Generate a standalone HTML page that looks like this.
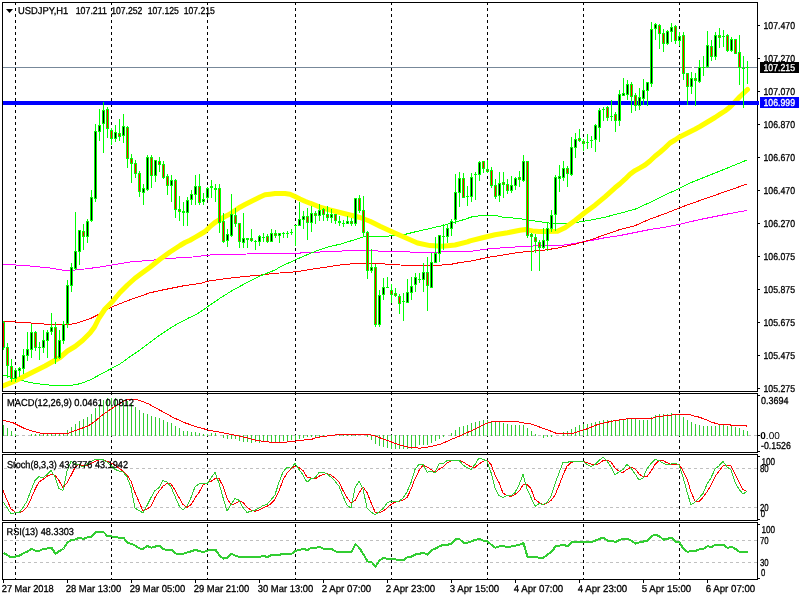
<!DOCTYPE html><html><head><meta charset="utf-8"><style>html,body{margin:0;padding:0;background:#fff;}svg{display:block;will-change:transform}text{font-family:"Liberation Sans",sans-serif;text-rendering:geometricPrecision;}</style></head><body>
<svg width="800" height="600" viewBox="0 0 800 600">
<rect x="0" y="0" width="800" height="600" fill="#fff"/>
<line x1="15.5" y1="2" x2="15.5" y2="579" stroke="#000" stroke-width="1" stroke-dasharray="3 3" shape-rendering="crispEdges"/>
<line x1="111.5" y1="2" x2="111.5" y2="579" stroke="#000" stroke-width="1" stroke-dasharray="3 3" shape-rendering="crispEdges"/>
<line x1="207.5" y1="2" x2="207.5" y2="579" stroke="#000" stroke-width="1" stroke-dasharray="3 3" shape-rendering="crispEdges"/>
<line x1="295.5" y1="2" x2="295.5" y2="579" stroke="#000" stroke-width="1" stroke-dasharray="3 3" shape-rendering="crispEdges"/>
<line x1="391.5" y1="2" x2="391.5" y2="579" stroke="#000" stroke-width="1" stroke-dasharray="3 3" shape-rendering="crispEdges"/>
<line x1="487.5" y1="2" x2="487.5" y2="579" stroke="#000" stroke-width="1" stroke-dasharray="3 3" shape-rendering="crispEdges"/>
<line x1="583.5" y1="2" x2="583.5" y2="579" stroke="#000" stroke-width="1" stroke-dasharray="3 3" shape-rendering="crispEdges"/>
<line x1="679.5" y1="2" x2="679.5" y2="579" stroke="#000" stroke-width="1" stroke-dasharray="3 3" shape-rendering="crispEdges"/>
<defs><clipPath id="cm"><rect x="3" y="3" width="754" height="388"/></clipPath><clipPath id="c1"><rect x="3" y="394" width="754" height="58"/></clipPath><clipPath id="c2"><rect x="3" y="455" width="754" height="65"/></clipPath><clipPath id="c3"><rect x="3" y="523" width="754" height="56"/></clipPath></defs>
<g clip-path="url(#cm)">
<polyline points="3.00,264.25 25.00,265.50 50.00,268.00 62.00,270.00 75.00,270.00 87.00,268.75 100.00,267.00 110.00,265.40 130.00,262.00 150.00,260.40 170.00,258.30 190.00,257.30 210.00,255.00 230.00,254.25 260.00,253.80 300.00,253.30 301.00,252.50 320.00,252.20 321.00,251.20 340.00,251.20 350.00,250.00 370.00,250.00 380.00,251.25 410.00,252.00 440.00,252.00 470.00,251.50 488.75,248.75 507.50,247.50 526.00,246.25 545.00,245.60 560.00,245.70 575.00,243.30 590.00,240.70 605.00,237.70 620.00,235.50 635.00,232.50 650.00,229.50 665.00,227.20 680.00,224.20 700.00,219.50 730.00,213.50 747.00,210.50" fill="none" stroke="#ff00ff" stroke-width="1" stroke-linejoin="round" shape-rendering="crispEdges"/>
<polyline points="3.00,321.25 25.00,322.50 50.00,324.50 62.00,325.00 75.00,323.75 90.00,318.70 97.50,315.00 105.00,310.50 112.50,306.70 120.00,303.70 130.00,299.80 140.00,296.30 150.00,292.80 160.00,290.50 170.00,288.50 185.00,285.50 200.00,283.50 208.00,281.20 227.50,278.40 243.80,276.60 260.00,275.10 273.00,273.50 293.00,272.00 300.00,271.20 310.00,269.50 320.00,268.00 330.00,266.50 340.00,265.00 350.00,264.00 370.00,263.00 400.00,265.00 430.00,265.75 450.00,264.50 460.00,262.50 470.00,261.25 490.00,257.00 505.00,254.75 520.00,252.25 545.00,250.00 557.50,248.10 560.00,247.50 575.00,244.20 590.00,240.00 605.00,234.70 620.00,229.50 635.00,225.70 650.00,219.00 665.00,213.70 680.00,207.70 690.00,204.00 710.00,197.00 730.00,190.00 747.00,184.00" fill="none" stroke="#ff0000" stroke-width="1" stroke-linejoin="round" shape-rendering="crispEdges"/>
<polyline points="3.00,375.00 9.00,376.50 15.00,378.75 30.00,382.50 45.00,384.75 60.00,385.75 70.00,385.50 80.00,383.75 90.00,380.00 95.00,377.30 105.00,372.00 111.70,368.30 120.00,364.00 130.00,356.70 140.00,350.00 150.00,342.40 160.00,335.00 170.00,328.30 180.00,322.40 190.00,317.30 195.00,315.00 200.00,312.20 208.00,306.40 220.00,298.20 233.00,290.10 245.00,283.60 260.00,276.00 275.00,270.00 280.00,267.00 295.00,260.00 310.00,253.50 320.00,249.50 330.00,246.50 340.00,244.20 362.00,237.50 366.00,236.00 389.00,236.00 391.00,235.30 405.00,234.40 417.50,231.25 430.00,228.50 442.50,225.60 455.00,222.25 467.50,218.50 470.00,217.25 482.50,215.25 495.00,215.25 501.00,216.90 507.50,217.50 520.00,218.75 532.50,220.60 545.00,222.50 557.50,224.00 560.00,223.80 575.00,222.70 590.00,220.20 605.00,217.20 620.00,213.30 635.00,209.20 650.00,202.50 665.00,195.00 680.00,188.20 690.00,183.00 710.00,175.00 730.00,167.00 747.00,160.00" fill="none" stroke="#00ff00" stroke-width="1" stroke-linejoin="round" shape-rendering="crispEdges"/>
<polyline points="3.00,386.00 15.00,381.00 30.00,373.50 45.00,366.00 60.00,357.50 67.50,351.00 75.00,346.50 82.50,340.50 90.00,333.00 94.50,327.00 99.00,318.00 105.00,309.00 112.50,301.50 120.00,292.50 127.50,285.00 135.00,278.25 140.00,274.50 150.00,267.30 160.00,259.30 170.00,252.00 180.00,245.50 185.00,242.50 190.00,240.20 195.00,237.40 200.00,234.50 205.00,231.50 210.00,226.70 215.00,222.50 220.00,219.50 225.00,216.50 230.00,214.00 235.00,210.50 240.00,207.20 245.00,204.50 250.00,202.00 255.00,199.50 260.00,197.00 265.00,194.80 270.00,194.20 275.00,193.60 285.00,193.60 290.00,194.30 295.00,196.50 300.00,199.00 305.00,201.20 310.00,203.20 315.00,205.00 320.00,207.20 330.00,210.00 340.00,212.50 350.00,215.00 360.00,217.50 370.00,221.25 380.00,226.25 392.50,232.00 405.00,237.50 417.50,243.00 430.00,245.60 442.50,246.25 455.00,245.00 467.50,241.90 470.00,240.90 482.50,237.75 495.00,234.75 507.50,232.75 520.00,230.25 526.00,229.60 532.50,230.90 539.00,231.40 545.00,231.40 557.50,231.25 565.00,227.70 575.00,220.50 585.00,212.50 595.00,205.20 605.00,196.80 610.00,192.30 615.00,187.80 620.00,183.75 625.00,179.20 630.00,174.30 635.00,170.60 640.00,167.90 645.00,165.00 650.00,161.00 655.00,156.25 660.00,152.25 665.00,147.90 670.00,143.00 675.00,140.00 680.00,136.70 685.00,134.20 690.00,131.70 695.00,129.20 700.00,126.50 705.00,123.50 710.00,120.50 715.00,117.50 720.00,114.20 725.00,111.00 730.00,107.00 734.00,103.00 740.00,96.50 747.50,89.50" fill="none" stroke="#ffff00" stroke-width="5" stroke-linejoin="round" stroke-linecap="round"/>
<rect x="3" y="101" width="756" height="4" fill="#0000ff"/>
<rect x="3" y="67" width="689" height="1" fill="#778899"/><rect x="694" y="67" width="63" height="1" fill="#778899"/>
<g shape-rendering="crispEdges"><rect x="3" y="321" width="1" height="29" fill="#00ff00"/><rect x="2" y="322" width="3" height="26" fill="#00ff00"/><rect x="3" y="323" width="1" height="24" fill="#ff0000"/><rect x="7" y="343" width="1" height="35" fill="#00ff00"/><rect x="6" y="347" width="3" height="19" fill="#00ff00"/><rect x="7" y="348" width="1" height="17" fill="#ff0000"/><rect x="11" y="359" width="1" height="23" fill="#00ff00"/><rect x="10" y="366" width="3" height="13" fill="#00ff00"/><rect x="11" y="367" width="1" height="11" fill="#ff0000"/><rect x="15" y="368" width="1" height="14" fill="#00ff00"/><rect x="14" y="370" width="3" height="9" fill="#00ff00"/><rect x="15" y="371" width="1" height="7" fill="#000"/><rect x="19" y="367" width="1" height="10" fill="#00ff00"/><rect x="18" y="368" width="3" height="3" fill="#00ff00"/><rect x="19" y="369" width="1" height="1" fill="#000"/><rect x="23" y="349" width="1" height="25" fill="#00ff00"/><rect x="22" y="355" width="3" height="14" fill="#00ff00"/><rect x="23" y="356" width="1" height="12" fill="#000"/><rect x="27" y="332" width="1" height="29" fill="#00ff00"/><rect x="26" y="349" width="3" height="7" fill="#00ff00"/><rect x="27" y="350" width="1" height="5" fill="#000"/><rect x="31" y="324" width="1" height="34" fill="#00ff00"/><rect x="30" y="332" width="3" height="18" fill="#00ff00"/><rect x="31" y="333" width="1" height="16" fill="#000"/><rect x="35" y="331" width="1" height="20" fill="#00ff00"/><rect x="34" y="332" width="3" height="16" fill="#00ff00"/><rect x="35" y="333" width="1" height="14" fill="#ff0000"/><rect x="39" y="342" width="1" height="18" fill="#00ff00"/><rect x="38" y="347" width="3" height="1" fill="#00ff00"/><rect x="43" y="330" width="1" height="23" fill="#00ff00"/><rect x="42" y="340" width="3" height="8" fill="#00ff00"/><rect x="43" y="341" width="1" height="6" fill="#000"/><rect x="47" y="330" width="1" height="28" fill="#00ff00"/><rect x="46" y="332" width="3" height="9" fill="#00ff00"/><rect x="47" y="333" width="1" height="7" fill="#000"/><rect x="51" y="313" width="1" height="22" fill="#00ff00"/><rect x="50" y="327" width="3" height="5" fill="#00ff00"/><rect x="51" y="328" width="1" height="3" fill="#000"/><rect x="55" y="322" width="1" height="42" fill="#00ff00"/><rect x="54" y="327" width="3" height="32" fill="#00ff00"/><rect x="55" y="328" width="1" height="30" fill="#ff0000"/><rect x="59" y="330" width="1" height="29" fill="#00ff00"/><rect x="58" y="340" width="3" height="18" fill="#00ff00"/><rect x="59" y="341" width="1" height="16" fill="#000"/><rect x="63" y="321" width="1" height="23" fill="#00ff00"/><rect x="62" y="324" width="3" height="17" fill="#00ff00"/><rect x="63" y="325" width="1" height="15" fill="#000"/><rect x="67" y="280" width="1" height="48" fill="#00ff00"/><rect x="66" y="285" width="3" height="39" fill="#00ff00"/><rect x="67" y="286" width="1" height="37" fill="#000"/><rect x="71" y="263" width="1" height="29" fill="#00ff00"/><rect x="70" y="267" width="3" height="19" fill="#00ff00"/><rect x="71" y="268" width="1" height="17" fill="#000"/><rect x="75" y="212" width="1" height="58" fill="#00ff00"/><rect x="74" y="251" width="3" height="18" fill="#00ff00"/><rect x="75" y="252" width="1" height="16" fill="#000"/><rect x="79" y="230" width="1" height="35" fill="#00ff00"/><rect x="78" y="230" width="3" height="22" fill="#00ff00"/><rect x="79" y="231" width="1" height="20" fill="#000"/><rect x="83" y="224" width="1" height="26" fill="#00ff00"/><rect x="82" y="231" width="3" height="6" fill="#00ff00"/><rect x="83" y="232" width="1" height="4" fill="#ff0000"/><rect x="87" y="219" width="1" height="24" fill="#00ff00"/><rect x="86" y="221" width="3" height="16" fill="#00ff00"/><rect x="87" y="222" width="1" height="14" fill="#000"/><rect x="91" y="190" width="1" height="32" fill="#00ff00"/><rect x="90" y="197" width="3" height="24" fill="#00ff00"/><rect x="91" y="198" width="1" height="22" fill="#000"/><rect x="95" y="124" width="1" height="78" fill="#00ff00"/><rect x="94" y="131" width="3" height="68" fill="#00ff00"/><rect x="95" y="132" width="1" height="66" fill="#000"/><rect x="99" y="109" width="1" height="32" fill="#00ff00"/><rect x="98" y="125" width="3" height="7" fill="#00ff00"/><rect x="99" y="126" width="1" height="5" fill="#000"/><rect x="103" y="102" width="1" height="51" fill="#00ff00"/><rect x="102" y="110" width="3" height="14" fill="#00ff00"/><rect x="103" y="111" width="1" height="12" fill="#000"/><rect x="107" y="107" width="1" height="31" fill="#00ff00"/><rect x="106" y="109" width="3" height="20" fill="#00ff00"/><rect x="107" y="110" width="1" height="18" fill="#ff0000"/><rect x="111" y="128" width="1" height="17" fill="#00ff00"/><rect x="110" y="130" width="3" height="9" fill="#00ff00"/><rect x="111" y="131" width="1" height="7" fill="#ff0000"/><rect x="115" y="125" width="1" height="17" fill="#00ff00"/><rect x="114" y="132" width="3" height="7" fill="#00ff00"/><rect x="115" y="133" width="1" height="5" fill="#000"/><rect x="119" y="119" width="1" height="22" fill="#00ff00"/><rect x="118" y="133" width="3" height="4" fill="#00ff00"/><rect x="119" y="134" width="1" height="2" fill="#ff0000"/><rect x="123" y="114" width="1" height="29" fill="#00ff00"/><rect x="122" y="126" width="3" height="10" fill="#00ff00"/><rect x="123" y="127" width="1" height="8" fill="#000"/><rect x="127" y="126" width="1" height="42" fill="#00ff00"/><rect x="126" y="127" width="3" height="32" fill="#00ff00"/><rect x="127" y="128" width="1" height="30" fill="#ff0000"/><rect x="131" y="154" width="1" height="29" fill="#00ff00"/><rect x="130" y="158" width="3" height="6" fill="#00ff00"/><rect x="131" y="159" width="1" height="4" fill="#ff0000"/><rect x="135" y="160" width="1" height="18" fill="#00ff00"/><rect x="134" y="163" width="3" height="11" fill="#00ff00"/><rect x="135" y="164" width="1" height="9" fill="#ff0000"/><rect x="139" y="171" width="1" height="26" fill="#00ff00"/><rect x="138" y="173" width="3" height="19" fill="#00ff00"/><rect x="139" y="174" width="1" height="17" fill="#ff0000"/><rect x="143" y="184" width="1" height="21" fill="#00ff00"/><rect x="142" y="188" width="3" height="5" fill="#00ff00"/><rect x="143" y="189" width="1" height="3" fill="#000"/><rect x="147" y="155" width="1" height="36" fill="#00ff00"/><rect x="146" y="157" width="3" height="33" fill="#00ff00"/><rect x="147" y="158" width="1" height="31" fill="#000"/><rect x="151" y="155" width="1" height="33" fill="#00ff00"/><rect x="150" y="157" width="3" height="19" fill="#00ff00"/><rect x="151" y="158" width="1" height="17" fill="#ff0000"/><rect x="155" y="160" width="1" height="22" fill="#00ff00"/><rect x="154" y="160" width="3" height="16" fill="#00ff00"/><rect x="155" y="161" width="1" height="14" fill="#000"/><rect x="159" y="157" width="1" height="15" fill="#00ff00"/><rect x="158" y="161" width="3" height="4" fill="#00ff00"/><rect x="159" y="162" width="1" height="2" fill="#ff0000"/><rect x="163" y="161" width="1" height="18" fill="#00ff00"/><rect x="162" y="164" width="3" height="14" fill="#00ff00"/><rect x="163" y="165" width="1" height="12" fill="#ff0000"/><rect x="167" y="174" width="1" height="21" fill="#00ff00"/><rect x="166" y="176" width="3" height="10" fill="#00ff00"/><rect x="167" y="177" width="1" height="8" fill="#ff0000"/><rect x="171" y="175" width="1" height="27" fill="#00ff00"/><rect x="170" y="180" width="3" height="6" fill="#00ff00"/><rect x="171" y="181" width="1" height="4" fill="#000"/><rect x="175" y="179" width="1" height="39" fill="#00ff00"/><rect x="174" y="180" width="3" height="30" fill="#00ff00"/><rect x="175" y="181" width="1" height="28" fill="#ff0000"/><rect x="179" y="196" width="1" height="25" fill="#00ff00"/><rect x="178" y="209" width="3" height="3" fill="#00ff00"/><rect x="179" y="210" width="1" height="1" fill="#ff0000"/><rect x="183" y="202" width="1" height="24" fill="#00ff00"/><rect x="182" y="211" width="3" height="2" fill="#00ff00"/><rect x="187" y="197" width="1" height="29" fill="#00ff00"/><rect x="186" y="200" width="3" height="13" fill="#00ff00"/><rect x="187" y="201" width="1" height="11" fill="#000"/><rect x="191" y="190" width="1" height="15" fill="#00ff00"/><rect x="190" y="194" width="3" height="6" fill="#00ff00"/><rect x="191" y="195" width="1" height="4" fill="#000"/><rect x="195" y="175" width="1" height="30" fill="#00ff00"/><rect x="194" y="186" width="3" height="9" fill="#00ff00"/><rect x="195" y="187" width="1" height="7" fill="#000"/><rect x="199" y="174" width="1" height="31" fill="#00ff00"/><rect x="198" y="186" width="3" height="17" fill="#00ff00"/><rect x="199" y="187" width="1" height="15" fill="#ff0000"/><rect x="203" y="193" width="1" height="12" fill="#00ff00"/><rect x="202" y="199" width="3" height="3" fill="#00ff00"/><rect x="203" y="200" width="1" height="1" fill="#000"/><rect x="207" y="187" width="1" height="13" fill="#00ff00"/><rect x="206" y="188" width="3" height="10" fill="#00ff00"/><rect x="207" y="189" width="1" height="8" fill="#000"/><rect x="211" y="180" width="1" height="18" fill="#00ff00"/><rect x="210" y="186" width="3" height="2" fill="#00ff00"/><rect x="215" y="184" width="1" height="18" fill="#00ff00"/><rect x="214" y="188" width="3" height="2" fill="#00ff00"/><rect x="219" y="184" width="1" height="49" fill="#00ff00"/><rect x="218" y="188" width="3" height="35" fill="#00ff00"/><rect x="219" y="189" width="1" height="33" fill="#ff0000"/><rect x="223" y="213" width="1" height="30" fill="#00ff00"/><rect x="222" y="221" width="3" height="21" fill="#00ff00"/><rect x="223" y="222" width="1" height="19" fill="#ff0000"/><rect x="227" y="229" width="1" height="18" fill="#00ff00"/><rect x="226" y="234" width="3" height="7" fill="#00ff00"/><rect x="227" y="235" width="1" height="5" fill="#000"/><rect x="231" y="194" width="1" height="43" fill="#00ff00"/><rect x="230" y="214" width="3" height="22" fill="#00ff00"/><rect x="231" y="215" width="1" height="20" fill="#000"/><rect x="235" y="208" width="1" height="19" fill="#00ff00"/><rect x="234" y="215" width="3" height="9" fill="#00ff00"/><rect x="235" y="216" width="1" height="7" fill="#ff0000"/><rect x="239" y="223" width="1" height="25" fill="#00ff00"/><rect x="238" y="223" width="3" height="19" fill="#00ff00"/><rect x="239" y="224" width="1" height="17" fill="#ff0000"/><rect x="243" y="213" width="1" height="35" fill="#00ff00"/><rect x="242" y="238" width="3" height="5" fill="#00ff00"/><rect x="243" y="239" width="1" height="3" fill="#000"/><rect x="247" y="238" width="1" height="10" fill="#00ff00"/><rect x="246" y="238" width="3" height="2" fill="#00ff00"/><rect x="251" y="229" width="1" height="13" fill="#00ff00"/><rect x="250" y="238" width="3" height="3" fill="#00ff00"/><rect x="251" y="239" width="1" height="1" fill="#ff0000"/><rect x="255" y="240" width="1" height="10" fill="#00ff00"/><rect x="254" y="241" width="3" height="1" fill="#00ff00"/><rect x="259" y="235" width="1" height="11" fill="#00ff00"/><rect x="258" y="236" width="3" height="6" fill="#00ff00"/><rect x="259" y="237" width="1" height="4" fill="#000"/><rect x="263" y="233" width="1" height="9" fill="#00ff00"/><rect x="262" y="237" width="3" height="1" fill="#00ff00"/><rect x="267" y="234" width="1" height="9" fill="#00ff00"/><rect x="266" y="236" width="3" height="6" fill="#00ff00"/><rect x="267" y="237" width="1" height="4" fill="#ff0000"/><rect x="271" y="229" width="1" height="13" fill="#00ff00"/><rect x="270" y="233" width="3" height="9" fill="#00ff00"/><rect x="271" y="234" width="1" height="7" fill="#000"/><rect x="275" y="230" width="1" height="8" fill="#00ff00"/><rect x="274" y="233" width="3" height="3" fill="#00ff00"/><rect x="275" y="234" width="1" height="1" fill="#ff0000"/><rect x="279" y="233" width="1" height="10" fill="#00ff00"/><rect x="278" y="233" width="3" height="3" fill="#00ff00"/><rect x="279" y="234" width="1" height="1" fill="#000"/><rect x="283" y="232" width="1" height="6" fill="#00ff00"/><rect x="282" y="233" width="3" height="1" fill="#00ff00"/><rect x="287" y="231" width="1" height="7" fill="#00ff00"/><rect x="286" y="233" width="3" height="1" fill="#00ff00"/><rect x="291" y="229" width="1" height="6" fill="#00ff00"/><rect x="290" y="232" width="3" height="1" fill="#00ff00"/><rect x="295" y="225" width="1" height="21" fill="#00ff00"/><rect x="294" y="225" width="3" height="1" fill="#00ff00"/><rect x="299" y="202" width="1" height="24" fill="#00ff00"/><rect x="298" y="219" width="3" height="7" fill="#00ff00"/><rect x="299" y="220" width="1" height="5" fill="#000"/><rect x="303" y="211" width="1" height="18" fill="#00ff00"/><rect x="302" y="216" width="3" height="4" fill="#00ff00"/><rect x="303" y="217" width="1" height="2" fill="#000"/><rect x="307" y="208" width="1" height="32" fill="#00ff00"/><rect x="306" y="216" width="3" height="7" fill="#00ff00"/><rect x="307" y="217" width="1" height="5" fill="#ff0000"/><rect x="311" y="206" width="1" height="26" fill="#00ff00"/><rect x="310" y="213" width="3" height="10" fill="#00ff00"/><rect x="311" y="214" width="1" height="8" fill="#000"/><rect x="315" y="211" width="1" height="13" fill="#00ff00"/><rect x="314" y="213" width="3" height="3" fill="#00ff00"/><rect x="315" y="214" width="1" height="1" fill="#ff0000"/><rect x="319" y="204" width="1" height="17" fill="#00ff00"/><rect x="318" y="210" width="3" height="6" fill="#00ff00"/><rect x="319" y="211" width="1" height="4" fill="#000"/><rect x="323" y="208" width="1" height="13" fill="#00ff00"/><rect x="322" y="209" width="3" height="6" fill="#00ff00"/><rect x="323" y="210" width="1" height="4" fill="#ff0000"/><rect x="327" y="206" width="1" height="15" fill="#00ff00"/><rect x="326" y="214" width="3" height="4" fill="#00ff00"/><rect x="327" y="215" width="1" height="2" fill="#ff0000"/><rect x="331" y="209" width="1" height="14" fill="#00ff00"/><rect x="330" y="214" width="3" height="4" fill="#00ff00"/><rect x="331" y="215" width="1" height="2" fill="#000"/><rect x="335" y="214" width="1" height="10" fill="#00ff00"/><rect x="334" y="214" width="3" height="7" fill="#00ff00"/><rect x="335" y="215" width="1" height="5" fill="#ff0000"/><rect x="339" y="216" width="1" height="10" fill="#00ff00"/><rect x="338" y="221" width="3" height="2" fill="#00ff00"/><rect x="343" y="220" width="1" height="7" fill="#00ff00"/><rect x="342" y="223" width="3" height="1" fill="#00ff00"/><rect x="347" y="216" width="1" height="8" fill="#00ff00"/><rect x="346" y="221" width="3" height="3" fill="#00ff00"/><rect x="347" y="222" width="1" height="1" fill="#000"/><rect x="351" y="218" width="1" height="8" fill="#00ff00"/><rect x="350" y="221" width="3" height="3" fill="#00ff00"/><rect x="351" y="222" width="1" height="1" fill="#ff0000"/><rect x="355" y="198" width="1" height="28" fill="#00ff00"/><rect x="354" y="198" width="3" height="26" fill="#00ff00"/><rect x="355" y="199" width="1" height="24" fill="#000"/><rect x="359" y="195" width="1" height="18" fill="#00ff00"/><rect x="358" y="198" width="3" height="13" fill="#00ff00"/><rect x="359" y="199" width="1" height="11" fill="#ff0000"/><rect x="363" y="196" width="1" height="40" fill="#00ff00"/><rect x="362" y="210" width="3" height="23" fill="#00ff00"/><rect x="363" y="211" width="1" height="21" fill="#ff0000"/><rect x="367" y="231" width="1" height="48" fill="#00ff00"/><rect x="366" y="232" width="3" height="39" fill="#00ff00"/><rect x="367" y="233" width="1" height="37" fill="#ff0000"/><rect x="371" y="249" width="1" height="24" fill="#00ff00"/><rect x="370" y="267" width="3" height="4" fill="#00ff00"/><rect x="371" y="268" width="1" height="2" fill="#000"/><rect x="375" y="264" width="1" height="63" fill="#00ff00"/><rect x="374" y="267" width="3" height="58" fill="#00ff00"/><rect x="375" y="268" width="1" height="56" fill="#ff0000"/><rect x="379" y="290" width="1" height="37" fill="#00ff00"/><rect x="378" y="295" width="3" height="30" fill="#00ff00"/><rect x="379" y="296" width="1" height="28" fill="#000"/><rect x="383" y="278" width="1" height="22" fill="#00ff00"/><rect x="382" y="287" width="3" height="8" fill="#00ff00"/><rect x="383" y="288" width="1" height="6" fill="#000"/><rect x="387" y="277" width="1" height="11" fill="#00ff00"/><rect x="386" y="287" width="3" height="1" fill="#00ff00"/><rect x="391" y="284" width="1" height="19" fill="#00ff00"/><rect x="390" y="290" width="3" height="5" fill="#00ff00"/><rect x="391" y="291" width="1" height="3" fill="#ff0000"/><rect x="395" y="288" width="1" height="9" fill="#00ff00"/><rect x="394" y="293" width="3" height="3" fill="#00ff00"/><rect x="395" y="294" width="1" height="1" fill="#ff0000"/><rect x="399" y="294" width="1" height="20" fill="#00ff00"/><rect x="398" y="296" width="3" height="8" fill="#00ff00"/><rect x="399" y="297" width="1" height="6" fill="#ff0000"/><rect x="403" y="293" width="1" height="28" fill="#00ff00"/><rect x="402" y="301" width="3" height="1" fill="#00ff00"/><rect x="407" y="279" width="1" height="24" fill="#00ff00"/><rect x="406" y="292" width="3" height="11" fill="#00ff00"/><rect x="407" y="293" width="1" height="9" fill="#000"/><rect x="411" y="277" width="1" height="23" fill="#00ff00"/><rect x="410" y="286" width="3" height="7" fill="#00ff00"/><rect x="411" y="287" width="1" height="5" fill="#000"/><rect x="415" y="273" width="1" height="19" fill="#00ff00"/><rect x="414" y="277" width="3" height="8" fill="#00ff00"/><rect x="415" y="278" width="1" height="6" fill="#000"/><rect x="419" y="273" width="1" height="10" fill="#00ff00"/><rect x="418" y="279" width="3" height="1" fill="#00ff00"/><rect x="423" y="263" width="1" height="29" fill="#00ff00"/><rect x="422" y="272" width="3" height="8" fill="#00ff00"/><rect x="423" y="273" width="1" height="6" fill="#000"/><rect x="427" y="257" width="1" height="54" fill="#00ff00"/><rect x="426" y="272" width="3" height="14" fill="#00ff00"/><rect x="427" y="273" width="1" height="12" fill="#ff0000"/><rect x="431" y="253" width="1" height="35" fill="#00ff00"/><rect x="430" y="262" width="3" height="26" fill="#00ff00"/><rect x="431" y="263" width="1" height="24" fill="#000"/><rect x="435" y="237" width="1" height="26" fill="#00ff00"/><rect x="434" y="253" width="3" height="10" fill="#00ff00"/><rect x="435" y="254" width="1" height="8" fill="#000"/><rect x="439" y="235" width="1" height="27" fill="#00ff00"/><rect x="438" y="235" width="3" height="19" fill="#00ff00"/><rect x="439" y="236" width="1" height="17" fill="#000"/><rect x="443" y="224" width="1" height="26" fill="#00ff00"/><rect x="442" y="236" width="3" height="1" fill="#00ff00"/><rect x="447" y="225" width="1" height="18" fill="#00ff00"/><rect x="446" y="228" width="3" height="9" fill="#00ff00"/><rect x="447" y="229" width="1" height="7" fill="#000"/><rect x="451" y="219" width="1" height="17" fill="#00ff00"/><rect x="450" y="221" width="3" height="8" fill="#00ff00"/><rect x="451" y="222" width="1" height="6" fill="#000"/><rect x="455" y="174" width="1" height="50" fill="#00ff00"/><rect x="454" y="192" width="3" height="28" fill="#00ff00"/><rect x="455" y="193" width="1" height="26" fill="#000"/><rect x="459" y="172" width="1" height="35" fill="#00ff00"/><rect x="458" y="178" width="3" height="15" fill="#00ff00"/><rect x="459" y="179" width="1" height="13" fill="#000"/><rect x="463" y="173" width="1" height="25" fill="#00ff00"/><rect x="462" y="178" width="3" height="20" fill="#00ff00"/><rect x="463" y="179" width="1" height="18" fill="#ff0000"/><rect x="467" y="186" width="1" height="20" fill="#00ff00"/><rect x="466" y="196" width="3" height="1" fill="#00ff00"/><rect x="471" y="173" width="1" height="29" fill="#00ff00"/><rect x="470" y="177" width="3" height="20" fill="#00ff00"/><rect x="471" y="178" width="1" height="18" fill="#000"/><rect x="475" y="172" width="1" height="28" fill="#00ff00"/><rect x="474" y="174" width="3" height="1" fill="#00ff00"/><rect x="479" y="161" width="1" height="20" fill="#00ff00"/><rect x="478" y="162" width="3" height="13" fill="#00ff00"/><rect x="479" y="163" width="1" height="11" fill="#000"/><rect x="483" y="161" width="1" height="12" fill="#00ff00"/><rect x="482" y="161" width="3" height="8" fill="#00ff00"/><rect x="483" y="162" width="1" height="6" fill="#ff0000"/><rect x="487" y="160" width="1" height="13" fill="#00ff00"/><rect x="486" y="169" width="3" height="3" fill="#00ff00"/><rect x="487" y="170" width="1" height="1" fill="#ff0000"/><rect x="491" y="167" width="1" height="21" fill="#00ff00"/><rect x="490" y="170" width="3" height="16" fill="#00ff00"/><rect x="491" y="171" width="1" height="14" fill="#ff0000"/><rect x="495" y="179" width="1" height="20" fill="#00ff00"/><rect x="494" y="185" width="3" height="12" fill="#00ff00"/><rect x="495" y="186" width="1" height="10" fill="#ff0000"/><rect x="499" y="172" width="1" height="30" fill="#00ff00"/><rect x="498" y="183" width="3" height="13" fill="#00ff00"/><rect x="499" y="184" width="1" height="11" fill="#000"/><rect x="503" y="172" width="1" height="26" fill="#00ff00"/><rect x="502" y="182" width="3" height="3" fill="#00ff00"/><rect x="503" y="183" width="1" height="1" fill="#ff0000"/><rect x="507" y="179" width="1" height="15" fill="#00ff00"/><rect x="506" y="184" width="3" height="7" fill="#00ff00"/><rect x="507" y="185" width="1" height="5" fill="#ff0000"/><rect x="511" y="176" width="1" height="17" fill="#00ff00"/><rect x="510" y="185" width="3" height="6" fill="#00ff00"/><rect x="511" y="186" width="1" height="4" fill="#000"/><rect x="515" y="177" width="1" height="13" fill="#00ff00"/><rect x="514" y="178" width="3" height="8" fill="#00ff00"/><rect x="515" y="179" width="1" height="6" fill="#000"/><rect x="519" y="171" width="1" height="16" fill="#00ff00"/><rect x="518" y="177" width="3" height="3" fill="#00ff00"/><rect x="519" y="178" width="1" height="1" fill="#ff0000"/><rect x="523" y="155" width="1" height="27" fill="#00ff00"/><rect x="522" y="161" width="3" height="20" fill="#00ff00"/><rect x="523" y="162" width="1" height="18" fill="#000"/><rect x="527" y="161" width="1" height="77" fill="#00ff00"/><rect x="526" y="161" width="3" height="75" fill="#00ff00"/><rect x="527" y="162" width="1" height="73" fill="#ff0000"/><rect x="531" y="233" width="1" height="38" fill="#00ff00"/><rect x="530" y="234" width="3" height="3" fill="#00ff00"/><rect x="531" y="235" width="1" height="1" fill="#ff0000"/><rect x="535" y="234" width="1" height="19" fill="#00ff00"/><rect x="534" y="237" width="3" height="5" fill="#00ff00"/><rect x="535" y="238" width="1" height="3" fill="#ff0000"/><rect x="539" y="240" width="1" height="31" fill="#00ff00"/><rect x="538" y="242" width="3" height="6" fill="#00ff00"/><rect x="539" y="243" width="1" height="4" fill="#ff0000"/><rect x="543" y="228" width="1" height="21" fill="#00ff00"/><rect x="542" y="240" width="3" height="8" fill="#00ff00"/><rect x="543" y="241" width="1" height="6" fill="#000"/><rect x="547" y="223" width="1" height="28" fill="#00ff00"/><rect x="546" y="228" width="3" height="13" fill="#00ff00"/><rect x="547" y="229" width="1" height="11" fill="#000"/><rect x="551" y="210" width="1" height="22" fill="#00ff00"/><rect x="550" y="215" width="3" height="14" fill="#00ff00"/><rect x="551" y="216" width="1" height="12" fill="#000"/><rect x="555" y="175" width="1" height="56" fill="#00ff00"/><rect x="554" y="177" width="3" height="38" fill="#00ff00"/><rect x="555" y="178" width="1" height="36" fill="#000"/><rect x="559" y="165" width="1" height="27" fill="#00ff00"/><rect x="558" y="176" width="3" height="3" fill="#00ff00"/><rect x="559" y="177" width="1" height="1" fill="#000"/><rect x="563" y="161" width="1" height="20" fill="#00ff00"/><rect x="562" y="168" width="3" height="10" fill="#00ff00"/><rect x="563" y="169" width="1" height="8" fill="#000"/><rect x="567" y="166" width="1" height="21" fill="#00ff00"/><rect x="566" y="168" width="3" height="6" fill="#00ff00"/><rect x="567" y="169" width="1" height="4" fill="#ff0000"/><rect x="571" y="137" width="1" height="39" fill="#00ff00"/><rect x="570" y="147" width="3" height="28" fill="#00ff00"/><rect x="571" y="148" width="1" height="26" fill="#000"/><rect x="575" y="133" width="1" height="25" fill="#00ff00"/><rect x="574" y="139" width="3" height="9" fill="#00ff00"/><rect x="575" y="140" width="1" height="7" fill="#000"/><rect x="579" y="129" width="1" height="13" fill="#00ff00"/><rect x="578" y="138" width="3" height="3" fill="#00ff00"/><rect x="579" y="139" width="1" height="1" fill="#ff0000"/><rect x="583" y="139" width="1" height="12" fill="#00ff00"/><rect x="582" y="141" width="3" height="3" fill="#00ff00"/><rect x="583" y="142" width="1" height="1" fill="#ff0000"/><rect x="587" y="134" width="1" height="15" fill="#00ff00"/><rect x="586" y="142" width="3" height="1" fill="#00ff00"/><rect x="591" y="136" width="1" height="12" fill="#00ff00"/><rect x="590" y="140" width="3" height="1" fill="#00ff00"/><rect x="595" y="124" width="1" height="28" fill="#00ff00"/><rect x="594" y="125" width="3" height="15" fill="#00ff00"/><rect x="595" y="126" width="1" height="13" fill="#000"/><rect x="599" y="108" width="1" height="34" fill="#00ff00"/><rect x="598" y="110" width="3" height="18" fill="#00ff00"/><rect x="599" y="111" width="1" height="16" fill="#000"/><rect x="603" y="107" width="1" height="14" fill="#00ff00"/><rect x="602" y="109" width="3" height="1" fill="#00ff00"/><rect x="607" y="106" width="1" height="15" fill="#00ff00"/><rect x="606" y="107" width="3" height="11" fill="#00ff00"/><rect x="607" y="108" width="1" height="9" fill="#ff0000"/><rect x="611" y="100" width="1" height="21" fill="#00ff00"/><rect x="610" y="116" width="3" height="1" fill="#00ff00"/><rect x="615" y="112" width="1" height="20" fill="#00ff00"/><rect x="614" y="114" width="3" height="7" fill="#00ff00"/><rect x="615" y="115" width="1" height="5" fill="#ff0000"/><rect x="619" y="90" width="1" height="36" fill="#00ff00"/><rect x="618" y="94" width="3" height="27" fill="#00ff00"/><rect x="619" y="95" width="1" height="25" fill="#000"/><rect x="623" y="78" width="1" height="18" fill="#00ff00"/><rect x="622" y="93" width="3" height="3" fill="#00ff00"/><rect x="623" y="94" width="1" height="1" fill="#000"/><rect x="627" y="80" width="1" height="20" fill="#00ff00"/><rect x="626" y="84" width="3" height="11" fill="#00ff00"/><rect x="627" y="85" width="1" height="9" fill="#000"/><rect x="631" y="82" width="1" height="31" fill="#00ff00"/><rect x="630" y="84" width="3" height="13" fill="#00ff00"/><rect x="631" y="85" width="1" height="11" fill="#ff0000"/><rect x="635" y="93" width="1" height="18" fill="#00ff00"/><rect x="634" y="95" width="3" height="11" fill="#00ff00"/><rect x="635" y="96" width="1" height="9" fill="#ff0000"/><rect x="639" y="88" width="1" height="22" fill="#00ff00"/><rect x="638" y="97" width="3" height="9" fill="#00ff00"/><rect x="639" y="98" width="1" height="7" fill="#000"/><rect x="643" y="79" width="1" height="26" fill="#00ff00"/><rect x="642" y="90" width="3" height="9" fill="#00ff00"/><rect x="643" y="91" width="1" height="7" fill="#000"/><rect x="647" y="82" width="1" height="24" fill="#00ff00"/><rect x="646" y="82" width="3" height="9" fill="#00ff00"/><rect x="647" y="83" width="1" height="7" fill="#000"/><rect x="651" y="22" width="1" height="65" fill="#00ff00"/><rect x="650" y="29" width="3" height="55" fill="#00ff00"/><rect x="651" y="30" width="1" height="53" fill="#000"/><rect x="655" y="23" width="1" height="17" fill="#00ff00"/><rect x="654" y="24" width="3" height="5" fill="#00ff00"/><rect x="655" y="25" width="1" height="3" fill="#000"/><rect x="659" y="24" width="1" height="25" fill="#00ff00"/><rect x="658" y="25" width="3" height="9" fill="#00ff00"/><rect x="659" y="26" width="1" height="7" fill="#ff0000"/><rect x="663" y="29" width="1" height="23" fill="#00ff00"/><rect x="662" y="33" width="3" height="11" fill="#00ff00"/><rect x="663" y="34" width="1" height="9" fill="#ff0000"/><rect x="667" y="30" width="1" height="15" fill="#00ff00"/><rect x="666" y="31" width="3" height="13" fill="#00ff00"/><rect x="667" y="32" width="1" height="11" fill="#000"/><rect x="671" y="23" width="1" height="19" fill="#00ff00"/><rect x="670" y="27" width="3" height="5" fill="#00ff00"/><rect x="671" y="28" width="1" height="3" fill="#000"/><rect x="675" y="25" width="1" height="19" fill="#00ff00"/><rect x="674" y="26" width="3" height="15" fill="#00ff00"/><rect x="675" y="27" width="1" height="13" fill="#ff0000"/><rect x="679" y="32" width="1" height="14" fill="#00ff00"/><rect x="678" y="36" width="3" height="5" fill="#00ff00"/><rect x="679" y="37" width="1" height="3" fill="#000"/><rect x="683" y="32" width="1" height="48" fill="#00ff00"/><rect x="682" y="35" width="3" height="39" fill="#00ff00"/><rect x="683" y="36" width="1" height="37" fill="#ff0000"/><rect x="687" y="73" width="1" height="32" fill="#00ff00"/><rect x="686" y="73" width="3" height="14" fill="#00ff00"/><rect x="687" y="74" width="1" height="12" fill="#ff0000"/><rect x="691" y="72" width="1" height="22" fill="#00ff00"/><rect x="690" y="78" width="3" height="9" fill="#00ff00"/><rect x="691" y="79" width="1" height="7" fill="#000"/><rect x="695" y="73" width="1" height="33" fill="#00ff00"/><rect x="694" y="78" width="3" height="3" fill="#00ff00"/><rect x="695" y="79" width="1" height="1" fill="#ff0000"/><rect x="699" y="60" width="1" height="23" fill="#00ff00"/><rect x="698" y="67" width="3" height="15" fill="#00ff00"/><rect x="699" y="68" width="1" height="13" fill="#000"/><rect x="703" y="56" width="1" height="20" fill="#00ff00"/><rect x="702" y="67" width="3" height="1" fill="#00ff00"/><rect x="707" y="31" width="1" height="37" fill="#00ff00"/><rect x="706" y="45" width="3" height="22" fill="#00ff00"/><rect x="707" y="46" width="1" height="20" fill="#000"/><rect x="711" y="40" width="1" height="21" fill="#00ff00"/><rect x="710" y="46" width="3" height="11" fill="#00ff00"/><rect x="711" y="47" width="1" height="9" fill="#ff0000"/><rect x="715" y="32" width="1" height="28" fill="#00ff00"/><rect x="714" y="35" width="3" height="22" fill="#00ff00"/><rect x="715" y="36" width="1" height="20" fill="#000"/><rect x="719" y="28" width="1" height="20" fill="#00ff00"/><rect x="718" y="35" width="3" height="3" fill="#00ff00"/><rect x="719" y="36" width="1" height="1" fill="#ff0000"/><rect x="723" y="30" width="1" height="17" fill="#00ff00"/><rect x="722" y="36" width="3" height="1" fill="#00ff00"/><rect x="727" y="34" width="1" height="18" fill="#00ff00"/><rect x="726" y="35" width="3" height="16" fill="#00ff00"/><rect x="727" y="36" width="1" height="14" fill="#ff0000"/><rect x="731" y="37" width="1" height="15" fill="#00ff00"/><rect x="730" y="39" width="3" height="12" fill="#00ff00"/><rect x="731" y="40" width="1" height="10" fill="#000"/><rect x="735" y="39" width="1" height="15" fill="#00ff00"/><rect x="734" y="39" width="3" height="15" fill="#00ff00"/><rect x="735" y="40" width="1" height="13" fill="#ff0000"/><rect x="739" y="35" width="1" height="50" fill="#00ff00"/><rect x="738" y="52" width="3" height="16" fill="#00ff00"/><rect x="739" y="53" width="1" height="14" fill="#ff0000"/><rect x="743" y="56" width="1" height="52" fill="#00ff00"/><rect x="742" y="68" width="3" height="1" fill="#00ff00"/><rect x="747" y="61" width="1" height="23" fill="#00ff00"/><rect x="746" y="67" width="3" height="1" fill="#00ff00"/></g>
</g>
<line x1="4" y1="435.5" x2="757" y2="435.5" stroke="#c0c0c0" stroke-dasharray="3 3" shape-rendering="crispEdges"/>
<g shape-rendering="crispEdges"><rect x="3" y="425" width="1" height="11" fill="#32cd32"/><rect x="7" y="428" width="1" height="8" fill="#32cd32"/><rect x="11" y="431" width="1" height="5" fill="#32cd32"/><rect x="15" y="434" width="1" height="2" fill="#32cd32"/><rect x="31" y="434" width="1" height="2" fill="#32cd32"/><rect x="35" y="434" width="1" height="2" fill="#32cd32"/><rect x="39" y="434" width="1" height="2" fill="#32cd32"/><rect x="43" y="434" width="1" height="2" fill="#32cd32"/><rect x="47" y="434" width="1" height="2" fill="#32cd32"/><rect x="51" y="434" width="1" height="2" fill="#32cd32"/><rect x="55" y="434" width="1" height="2" fill="#32cd32"/><rect x="59" y="434" width="1" height="2" fill="#32cd32"/><rect x="63" y="433" width="1" height="3" fill="#32cd32"/><rect x="67" y="430" width="1" height="6" fill="#32cd32"/><rect x="71" y="427" width="1" height="9" fill="#32cd32"/><rect x="75" y="424" width="1" height="12" fill="#32cd32"/><rect x="79" y="421" width="1" height="15" fill="#32cd32"/><rect x="83" y="419" width="1" height="17" fill="#32cd32"/><rect x="87" y="417" width="1" height="19" fill="#32cd32"/><rect x="91" y="414" width="1" height="22" fill="#32cd32"/><rect x="95" y="408" width="1" height="28" fill="#32cd32"/><rect x="99" y="404" width="1" height="32" fill="#32cd32"/><rect x="103" y="400" width="1" height="36" fill="#32cd32"/><rect x="107" y="398" width="1" height="38" fill="#32cd32"/><rect x="111" y="398" width="1" height="38" fill="#32cd32"/><rect x="115" y="398" width="1" height="38" fill="#32cd32"/><rect x="119" y="399" width="1" height="37" fill="#32cd32"/><rect x="123" y="400" width="1" height="36" fill="#32cd32"/><rect x="127" y="401" width="1" height="35" fill="#32cd32"/><rect x="131" y="404" width="1" height="32" fill="#32cd32"/><rect x="135" y="407" width="1" height="29" fill="#32cd32"/><rect x="139" y="410" width="1" height="26" fill="#32cd32"/><rect x="143" y="413" width="1" height="23" fill="#32cd32"/><rect x="147" y="414" width="1" height="22" fill="#32cd32"/><rect x="151" y="416" width="1" height="20" fill="#32cd32"/><rect x="155" y="417" width="1" height="19" fill="#32cd32"/><rect x="159" y="418" width="1" height="18" fill="#32cd32"/><rect x="163" y="420" width="1" height="16" fill="#32cd32"/><rect x="167" y="422" width="1" height="14" fill="#32cd32"/><rect x="171" y="423" width="1" height="13" fill="#32cd32"/><rect x="175" y="426" width="1" height="10" fill="#32cd32"/><rect x="179" y="428" width="1" height="8" fill="#32cd32"/><rect x="183" y="431" width="1" height="5" fill="#32cd32"/><rect x="187" y="431" width="1" height="5" fill="#32cd32"/><rect x="191" y="432" width="1" height="4" fill="#32cd32"/><rect x="195" y="432" width="1" height="4" fill="#32cd32"/><rect x="199" y="433" width="1" height="3" fill="#32cd32"/><rect x="203" y="434" width="1" height="2" fill="#32cd32"/><rect x="207" y="434" width="1" height="2" fill="#32cd32"/><rect x="211" y="433" width="1" height="3" fill="#32cd32"/><rect x="215" y="433" width="1" height="3" fill="#32cd32"/><rect x="223" y="435" width="1" height="3" fill="#32cd32"/><rect x="227" y="435" width="1" height="4" fill="#32cd32"/><rect x="231" y="435" width="1" height="4" fill="#32cd32"/><rect x="235" y="435" width="1" height="4" fill="#32cd32"/><rect x="239" y="435" width="1" height="6" fill="#32cd32"/><rect x="243" y="435" width="1" height="7" fill="#32cd32"/><rect x="247" y="435" width="1" height="7" fill="#32cd32"/><rect x="251" y="435" width="1" height="8" fill="#32cd32"/><rect x="255" y="435" width="1" height="7" fill="#32cd32"/><rect x="259" y="435" width="1" height="8" fill="#32cd32"/><rect x="263" y="435" width="1" height="7" fill="#32cd32"/><rect x="267" y="435" width="1" height="7" fill="#32cd32"/><rect x="271" y="435" width="1" height="8" fill="#32cd32"/><rect x="275" y="435" width="1" height="7" fill="#32cd32"/><rect x="279" y="435" width="1" height="7" fill="#32cd32"/><rect x="283" y="435" width="1" height="6" fill="#32cd32"/><rect x="287" y="435" width="1" height="6" fill="#32cd32"/><rect x="291" y="435" width="1" height="5" fill="#32cd32"/><rect x="295" y="435" width="1" height="5" fill="#32cd32"/><rect x="299" y="435" width="1" height="4" fill="#32cd32"/><rect x="303" y="435" width="1" height="3" fill="#32cd32"/><rect x="307" y="435" width="1" height="2" fill="#32cd32"/><rect x="311" y="435" width="1" height="2" fill="#32cd32"/><rect x="315" y="435" width="1" height="2" fill="#32cd32"/><rect x="319" y="435" width="1" height="2" fill="#32cd32"/><rect x="323" y="435" width="1" height="2" fill="#32cd32"/><rect x="339" y="434" width="1" height="2" fill="#32cd32"/><rect x="343" y="434" width="1" height="2" fill="#32cd32"/><rect x="347" y="434" width="1" height="2" fill="#32cd32"/><rect x="351" y="434" width="1" height="2" fill="#32cd32"/><rect x="355" y="434" width="1" height="2" fill="#32cd32"/><rect x="367" y="435" width="1" height="2" fill="#32cd32"/><rect x="371" y="435" width="1" height="5" fill="#32cd32"/><rect x="375" y="435" width="1" height="9" fill="#32cd32"/><rect x="379" y="435" width="1" height="11" fill="#32cd32"/><rect x="383" y="435" width="1" height="12" fill="#32cd32"/><rect x="387" y="435" width="1" height="13" fill="#32cd32"/><rect x="391" y="435" width="1" height="14" fill="#32cd32"/><rect x="395" y="435" width="1" height="14" fill="#32cd32"/><rect x="399" y="435" width="1" height="14" fill="#32cd32"/><rect x="403" y="435" width="1" height="14" fill="#32cd32"/><rect x="407" y="435" width="1" height="14" fill="#32cd32"/><rect x="411" y="435" width="1" height="14" fill="#32cd32"/><rect x="415" y="435" width="1" height="12" fill="#32cd32"/><rect x="419" y="435" width="1" height="10" fill="#32cd32"/><rect x="423" y="435" width="1" height="10" fill="#32cd32"/><rect x="427" y="435" width="1" height="10" fill="#32cd32"/><rect x="431" y="435" width="1" height="8" fill="#32cd32"/><rect x="435" y="435" width="1" height="6" fill="#32cd32"/><rect x="439" y="435" width="1" height="4" fill="#32cd32"/><rect x="443" y="435" width="1" height="2" fill="#32cd32"/><rect x="451" y="433" width="1" height="3" fill="#32cd32"/><rect x="455" y="430" width="1" height="6" fill="#32cd32"/><rect x="459" y="427" width="1" height="9" fill="#32cd32"/><rect x="463" y="426" width="1" height="10" fill="#32cd32"/><rect x="467" y="425" width="1" height="11" fill="#32cd32"/><rect x="471" y="423" width="1" height="13" fill="#32cd32"/><rect x="475" y="422" width="1" height="14" fill="#32cd32"/><rect x="479" y="421" width="1" height="15" fill="#32cd32"/><rect x="483" y="420" width="1" height="16" fill="#32cd32"/><rect x="487" y="420" width="1" height="16" fill="#32cd32"/><rect x="491" y="421" width="1" height="15" fill="#32cd32"/><rect x="495" y="422" width="1" height="14" fill="#32cd32"/><rect x="499" y="422" width="1" height="14" fill="#32cd32"/><rect x="503" y="423" width="1" height="13" fill="#32cd32"/><rect x="507" y="424" width="1" height="12" fill="#32cd32"/><rect x="511" y="425" width="1" height="11" fill="#32cd32"/><rect x="515" y="425" width="1" height="11" fill="#32cd32"/><rect x="519" y="425" width="1" height="11" fill="#32cd32"/><rect x="523" y="425" width="1" height="11" fill="#32cd32"/><rect x="527" y="428" width="1" height="8" fill="#32cd32"/><rect x="531" y="431" width="1" height="5" fill="#32cd32"/><rect x="535" y="434" width="1" height="2" fill="#32cd32"/><rect x="543" y="435" width="1" height="3" fill="#32cd32"/><rect x="547" y="435" width="1" height="2" fill="#32cd32"/><rect x="551" y="435" width="1" height="2" fill="#32cd32"/><rect x="563" y="432" width="1" height="4" fill="#32cd32"/><rect x="567" y="431" width="1" height="5" fill="#32cd32"/><rect x="571" y="429" width="1" height="7" fill="#32cd32"/><rect x="575" y="427" width="1" height="9" fill="#32cd32"/><rect x="579" y="425" width="1" height="11" fill="#32cd32"/><rect x="583" y="424" width="1" height="12" fill="#32cd32"/><rect x="587" y="424" width="1" height="12" fill="#32cd32"/><rect x="591" y="423" width="1" height="13" fill="#32cd32"/><rect x="595" y="422" width="1" height="14" fill="#32cd32"/><rect x="599" y="421" width="1" height="15" fill="#32cd32"/><rect x="603" y="420" width="1" height="16" fill="#32cd32"/><rect x="607" y="420" width="1" height="16" fill="#32cd32"/><rect x="611" y="420" width="1" height="16" fill="#32cd32"/><rect x="615" y="420" width="1" height="16" fill="#32cd32"/><rect x="619" y="419" width="1" height="17" fill="#32cd32"/><rect x="623" y="419" width="1" height="17" fill="#32cd32"/><rect x="627" y="418" width="1" height="18" fill="#32cd32"/><rect x="631" y="419" width="1" height="17" fill="#32cd32"/><rect x="635" y="419" width="1" height="17" fill="#32cd32"/><rect x="639" y="420" width="1" height="16" fill="#32cd32"/><rect x="643" y="420" width="1" height="16" fill="#32cd32"/><rect x="647" y="420" width="1" height="16" fill="#32cd32"/><rect x="651" y="417" width="1" height="19" fill="#32cd32"/><rect x="655" y="415" width="1" height="21" fill="#32cd32"/><rect x="659" y="414" width="1" height="22" fill="#32cd32"/><rect x="663" y="414" width="1" height="22" fill="#32cd32"/><rect x="667" y="414" width="1" height="22" fill="#32cd32"/><rect x="671" y="413" width="1" height="23" fill="#32cd32"/><rect x="675" y="414" width="1" height="22" fill="#32cd32"/><rect x="679" y="414" width="1" height="22" fill="#32cd32"/><rect x="683" y="417" width="1" height="19" fill="#32cd32"/><rect x="687" y="420" width="1" height="16" fill="#32cd32"/><rect x="691" y="422" width="1" height="14" fill="#32cd32"/><rect x="695" y="424" width="1" height="12" fill="#32cd32"/><rect x="699" y="425" width="1" height="11" fill="#32cd32"/><rect x="703" y="426" width="1" height="10" fill="#32cd32"/><rect x="707" y="426" width="1" height="10" fill="#32cd32"/><rect x="711" y="426" width="1" height="10" fill="#32cd32"/><rect x="715" y="426" width="1" height="10" fill="#32cd32"/><rect x="719" y="425" width="1" height="11" fill="#32cd32"/><rect x="723" y="425" width="1" height="11" fill="#32cd32"/><rect x="727" y="426" width="1" height="10" fill="#32cd32"/><rect x="731" y="426" width="1" height="10" fill="#32cd32"/><rect x="735" y="427" width="1" height="9" fill="#32cd32"/><rect x="739" y="428" width="1" height="8" fill="#32cd32"/><rect x="743" y="430" width="1" height="6" fill="#32cd32"/><rect x="747" y="431" width="1" height="5" fill="#32cd32"/></g>
<polyline points="3.00,420.25 12.50,422.50 25.00,428.75 33.75,431.50 42.50,433.50 67.50,433.50 75.00,430.60 87.50,426.25 95.00,421.25 100.00,416.90 110.50,409.25 123.00,401.50 129.00,399.00 135.50,399.00 148.00,403.60 160.50,410.50 173.00,417.40 185.50,423.00 198.00,427.25 210.50,430.60 223.00,432.75 235.50,435.25 248.00,438.10 255.50,440.25 263.00,441.25 270.50,442.25 284.00,442.25 295.50,441.25 298.00,440.25 310.50,439.75 316.75,437.50 325.50,436.25 333.00,435.25 341.75,434.40 369.00,434.40 375.50,436.25 385.50,439.75 398.00,444.40 410.50,447.75 420.50,448.10 429.00,446.90 441.75,443.75 450.50,439.75 459.00,436.25 468.00,432.25 476.75,428.10 485.50,423.75 493.00,421.50 498.00,421.25 516.75,421.50 521.75,422.75 529.25,423.50 535.50,425.60 548.00,430.00 556.75,433.50 571.75,434.00 578.00,431.50 585.50,429.40 598.00,424.40 604.00,423.10 610.50,421.50 623.00,419.40 629.00,418.50 651.75,418.50 654.00,417.25 660.50,416.25 669.25,415.25 678.00,414.40 689.25,414.40 694.25,416.00 699.60,417.25 703.00,418.60 707.50,420.30 712.00,422.30 716.00,423.40 719.00,424.25 729.40,424.40 731.00,425.30 746.00,425.60 747.00,426.40" fill="none" stroke="#ff0000" stroke-width="1" stroke-linejoin="round" shape-rendering="crispEdges"/>
<line x1="4" y1="468.5" x2="757" y2="468.5" stroke="#c0c0c0" stroke-dasharray="3 3" shape-rendering="crispEdges"/>
<line x1="4" y1="507.5" x2="757" y2="507.5" stroke="#c0c0c0" stroke-dasharray="3 3" shape-rendering="crispEdges"/>
<polyline points="3.00,490.25 7.00,500.00 11.00,509.00 15.00,511.90 19.00,513.10 23.00,511.00 27.00,506.90 31.00,498.75 35.00,489.40 39.00,481.90 43.00,479.40 47.00,476.25 51.00,474.40 55.00,475.25 59.00,480.60 63.00,487.75 67.00,482.75 71.00,475.60 75.00,467.50 79.00,464.40 83.00,465.60 87.00,465.25 91.00,463.75 95.00,461.25 99.00,460.00 103.00,459.75 107.00,461.25 111.00,463.10 115.00,465.25 119.00,468.10 123.00,471.25 127.00,475.00 131.00,481.25 135.00,492.50 139.00,501.90 143.00,511.00 147.00,509.00 151.00,506.25 155.00,497.50 159.00,491.25 163.00,486.25 167.00,483.50 171.00,484.00 175.00,490.00 179.00,497.50 183.00,504.40 187.00,507.25 191.00,504.75 195.00,498.10 199.00,492.50 203.00,485.00 207.00,483.10 211.00,481.25 215.00,478.75 219.00,478.50 223.00,486.25 227.00,498.10 231.00,505.00 235.00,503.75 239.00,501.50 243.00,502.25 247.00,507.25 251.00,510.00 255.00,511.25 259.00,510.00 263.00,508.10 267.00,506.25 271.00,503.75 275.00,499.40 279.00,491.25 283.00,480.00 287.00,473.10 291.00,468.75 295.00,466.00 299.00,467.50 303.00,470.60 307.00,477.25 311.00,478.10 315.00,479.00 319.00,476.25 323.00,474.40 327.00,473.50 331.00,475.00 335.00,478.10 339.00,481.90 343.00,490.60 347.00,497.50 351.00,503.10 355.00,500.60 359.00,493.10 363.00,486.90 367.00,492.50 371.00,502.50 375.00,511.90 379.00,513.10 383.00,511.25 387.00,508.10 391.00,504.40 395.00,502.25 399.00,501.25 403.00,500.25 407.00,497.50 411.00,489.40 415.00,478.75 419.00,470.60 423.00,465.25 427.00,466.90 431.00,469.40 435.00,472.25 439.00,469.40 443.00,466.90 447.00,462.75 451.00,461.00 455.00,460.25 459.00,460.25 463.00,461.90 467.00,464.40 471.00,466.90 475.00,467.50 479.00,464.00 483.00,461.25 487.00,460.00 491.00,464.40 495.00,475.00 499.00,482.50 503.00,493.10 507.00,495.60 511.00,496.50 515.00,494.40 519.00,491.25 523.00,485.00 527.00,484.40 531.00,488.75 535.00,499.40 539.00,502.50 543.00,505.00 547.00,503.10 551.00,500.60 555.00,495.00 559.00,485.60 563.00,475.00 567.00,466.25 571.00,462.50 575.00,461.25 579.00,461.25 583.00,461.25 587.00,462.50 591.00,464.00 595.00,465.00 599.00,463.75 603.00,460.60 607.00,460.25 611.00,461.90 615.00,468.10 619.00,471.25 623.00,472.50 627.00,469.40 631.00,467.25 635.00,468.75 639.00,473.75 643.00,476.90 647.00,476.50 651.00,471.25 655.00,464.40 659.00,460.60 663.00,460.60 667.00,462.75 671.00,464.40 675.00,464.40 679.00,464.40 683.00,470.70 687.00,478.80 691.00,491.90 695.00,501.10 699.00,501.40 703.00,497.30 707.00,491.90 711.00,485.40 715.00,476.70 719.00,471.30 723.00,465.80 727.00,465.30 731.00,465.80 735.00,474.00 739.00,481.60 743.00,489.70 747.00,491.60" fill="none" stroke="#ff0000" stroke-width="1" stroke-linejoin="round" shape-rendering="crispEdges"/>
<polyline points="3.00,501.90 7.00,507.50 11.00,513.75 15.00,512.75 19.00,512.75 23.00,507.50 27.00,501.25 31.00,490.00 35.00,480.60 39.00,476.50 43.00,478.10 47.00,474.40 51.00,470.60 55.00,476.90 59.00,488.75 63.00,490.25 67.00,471.25 71.00,461.25 75.00,463.75 79.00,465.00 83.00,466.90 87.00,464.40 91.00,461.25 95.00,459.75 99.00,459.75 103.00,459.75 107.00,461.90 111.00,465.60 115.00,469.40 119.00,471.00 123.00,471.90 127.00,476.90 131.00,487.50 135.00,508.10 139.00,510.60 143.00,512.75 147.00,505.60 151.00,497.50 155.00,490.60 159.00,487.75 163.00,480.60 167.00,481.90 171.00,486.90 175.00,496.25 179.00,505.60 183.00,510.00 187.00,506.25 191.00,497.50 195.00,486.90 199.00,484.00 203.00,483.50 207.00,484.00 211.00,478.10 215.00,472.50 219.00,483.10 223.00,497.50 227.00,511.25 231.00,504.40 235.00,498.50 239.00,500.25 243.00,507.50 247.00,512.50 251.00,511.25 255.00,510.25 259.00,508.10 263.00,505.60 267.00,504.40 271.00,500.00 275.00,494.75 279.00,482.25 283.00,471.90 287.00,467.50 291.00,468.10 295.00,463.50 299.00,469.40 303.00,475.00 307.00,482.25 311.00,478.75 315.00,477.75 319.00,472.50 323.00,472.25 327.00,473.75 331.00,477.25 335.00,481.25 339.00,486.25 343.00,496.25 347.00,505.00 351.00,508.10 355.00,487.75 359.00,481.50 363.00,488.75 367.00,508.10 371.00,511.90 375.00,515.00 379.00,511.90 383.00,508.50 387.00,503.10 391.00,501.25 395.00,501.50 399.00,501.25 403.00,498.10 407.00,491.90 411.00,482.50 415.00,469.40 419.00,464.40 423.00,464.40 427.00,472.25 431.00,471.25 435.00,472.50 439.00,463.75 443.00,463.50 447.00,460.60 451.00,460.25 455.00,460.25 459.00,460.25 463.00,465.00 467.00,467.50 471.00,469.40 475.00,464.40 479.00,458.10 483.00,459.40 487.00,461.00 491.00,472.50 495.00,488.10 499.00,495.60 503.00,497.50 507.00,495.60 511.00,495.60 515.00,492.50 519.00,485.00 523.00,474.40 527.00,488.75 531.00,497.50 535.00,506.25 539.00,503.75 543.00,504.40 547.00,502.50 551.00,496.25 555.00,483.75 559.00,473.10 563.00,462.50 567.00,462.50 571.00,461.25 575.00,461.25 579.00,461.25 583.00,461.25 587.00,464.40 591.00,466.50 595.00,464.40 599.00,460.60 603.00,457.25 607.00,461.00 611.00,466.90 615.00,475.00 619.00,471.90 623.00,469.40 627.00,464.40 631.00,468.10 635.00,473.75 639.00,480.00 643.00,478.10 647.00,468.75 651.00,463.50 655.00,459.40 659.00,460.60 663.00,463.10 667.00,465.00 671.00,464.00 675.00,463.50 679.00,464.75 683.00,476.70 687.00,491.90 691.00,504.90 695.00,502.20 699.00,497.80 703.00,493.50 707.00,484.30 711.00,477.80 715.00,469.10 719.00,465.80 723.00,461.30 727.00,466.90 731.00,469.60 735.00,482.10 739.00,489.10 743.00,494.00 747.00,491.60" fill="none" stroke="#32cd32" stroke-width="1" stroke-linejoin="round" shape-rendering="crispEdges"/>
<line x1="4" y1="540.5" x2="757" y2="540.5" stroke="#c0c0c0" stroke-dasharray="3 3" shape-rendering="crispEdges"/>
<line x1="4" y1="562.5" x2="757" y2="562.5" stroke="#c0c0c0" stroke-dasharray="3 3" shape-rendering="crispEdges"/>
<polyline points="3.50,552.75 7.50,555.25 11.50,557.50 15.50,556.50 19.50,555.60 23.50,553.10 27.50,551.50 31.50,549.00 35.50,550.60 39.50,550.60 43.50,549.00 47.50,548.50 51.50,547.75 55.50,553.75 59.50,551.00 63.50,548.50 67.50,542.50 71.50,540.00 75.50,539.40 79.50,537.75 83.50,539.00 87.50,537.25 91.50,536.50 95.50,532.25 99.50,531.90 103.50,531.90 107.50,536.25 111.50,536.50 115.50,536.90 119.50,537.75 123.50,537.75 127.50,543.10 131.50,543.75 135.50,545.60 139.50,548.50 143.50,548.50 147.50,546.00 151.50,547.75 155.50,546.50 159.50,545.60 163.50,549.40 167.50,549.75 171.50,549.75 175.50,553.50 179.50,553.75 183.50,553.75 187.50,552.25 191.50,551.25 195.50,549.75 199.50,551.25 203.50,551.90 207.50,550.60 211.50,549.75 215.50,549.75 219.50,555.60 223.50,558.75 227.50,557.50 231.50,553.75 235.50,555.60 239.50,556.90 243.50,556.90 247.50,556.90 251.50,556.90 255.50,556.90 259.50,556.90 263.50,556.00 267.50,557.00 271.50,555.00 275.50,554.75 279.50,554.75 283.50,553.75 287.50,553.75 291.50,553.75 295.50,551.00 299.50,549.75 303.50,549.00 307.50,550.00 311.50,547.75 315.50,547.75 319.50,546.90 323.50,548.75 327.50,549.00 331.50,549.00 335.50,551.50 339.50,551.90 343.50,551.90 347.50,551.90 351.50,551.90 355.50,544.00 359.50,548.10 363.50,554.40 367.50,561.50 371.50,561.90 375.50,566.90 379.50,560.25 383.50,558.10 387.50,558.75 391.50,559.00 395.50,559.40 399.50,560.00 403.50,560.00 407.50,557.25 411.50,556.50 415.50,554.40 419.50,553.75 423.50,552.75 427.50,554.75 431.50,550.25 435.50,548.50 439.50,546.25 443.50,544.75 447.50,544.75 451.50,543.75 455.50,539.40 459.50,539.00 463.50,542.75 467.50,542.75 471.50,541.25 475.50,539.75 479.50,539.00 483.50,540.60 487.50,541.25 491.50,545.00 495.50,547.75 499.50,546.25 503.50,546.25 507.50,546.90 511.50,546.50 515.50,545.60 519.50,544.75 523.50,543.10 527.50,556.90 531.50,556.90 535.50,557.25 539.50,557.75 543.50,557.75 547.50,554.40 551.50,551.90 555.50,546.50 559.50,545.60 563.50,544.75 567.50,546.25 571.50,542.25 575.50,542.25 579.50,542.25 583.50,542.25 587.50,542.25 591.50,542.25 595.50,540.60 599.50,538.75 603.50,537.75 607.50,540.60 611.50,541.00 615.50,541.90 619.50,540.00 623.50,538.75 627.50,538.75 631.50,540.60 635.50,543.75 639.50,542.25 643.50,541.50 647.50,541.00 651.50,536.00 655.50,534.75 659.50,536.25 663.50,539.75 667.50,538.75 671.50,537.75 675.50,541.90 679.50,542.25 683.50,549.00 687.50,551.90 691.50,551.00 695.50,551.00 699.50,549.20 703.50,548.80 707.50,546.20 711.50,547.00 715.50,544.80 719.50,544.80 723.50,544.80 727.50,547.80 731.50,546.80 735.50,549.00 739.50,551.80 743.50,551.80 747.50,551.80" fill="none" stroke="#32cd32" stroke-width="2" stroke-linejoin="round" shape-rendering="crispEdges"/>
<rect x="2.5" y="2.5" width="755" height="389" fill="none" stroke="#000" stroke-width="1" shape-rendering="crispEdges"/>
<rect x="2.5" y="393.5" width="755" height="59" fill="none" stroke="#000" stroke-width="1" shape-rendering="crispEdges"/>
<rect x="2.5" y="454.5" width="755" height="66" fill="none" stroke="#000" stroke-width="1" shape-rendering="crispEdges"/>
<rect x="2.5" y="522.5" width="755" height="57" fill="none" stroke="#000" stroke-width="1" shape-rendering="crispEdges"/>
<rect x="757" y="101" width="2" height="4" fill="#0000ff"/>
<rect x="758" y="25" width="2" height="1" fill="#000" shape-rendering="crispEdges"/>
<text x="763.5" y="29" font-size="10" fill="#000" stroke="#000" stroke-width="0.3" textLength="31.5" lengthAdjust="spacingAndGlyphs">107.470</text>
<rect x="758" y="58" width="2" height="1" fill="#000" shape-rendering="crispEdges"/>
<text x="763.5" y="62" font-size="10" fill="#000" stroke="#000" stroke-width="0.3" textLength="31.5" lengthAdjust="spacingAndGlyphs">107.270</text>
<rect x="758" y="91" width="2" height="1" fill="#000" shape-rendering="crispEdges"/>
<text x="763.5" y="95" font-size="10" fill="#000" stroke="#000" stroke-width="0.3" textLength="31.5" lengthAdjust="spacingAndGlyphs">107.070</text>
<rect x="758" y="124" width="2" height="1" fill="#000" shape-rendering="crispEdges"/>
<text x="763.5" y="128" font-size="10" fill="#000" stroke="#000" stroke-width="0.3" textLength="31.5" lengthAdjust="spacingAndGlyphs">106.870</text>
<rect x="758" y="157" width="2" height="1" fill="#000" shape-rendering="crispEdges"/>
<text x="763.5" y="161" font-size="10" fill="#000" stroke="#000" stroke-width="0.3" textLength="31.5" lengthAdjust="spacingAndGlyphs">106.670</text>
<rect x="758" y="190" width="2" height="1" fill="#000" shape-rendering="crispEdges"/>
<text x="763.5" y="194" font-size="10" fill="#000" stroke="#000" stroke-width="0.3" textLength="31.5" lengthAdjust="spacingAndGlyphs">106.470</text>
<rect x="758" y="223" width="2" height="1" fill="#000" shape-rendering="crispEdges"/>
<text x="763.5" y="227" font-size="10" fill="#000" stroke="#000" stroke-width="0.3" textLength="31.5" lengthAdjust="spacingAndGlyphs">106.270</text>
<rect x="758" y="256" width="2" height="1" fill="#000" shape-rendering="crispEdges"/>
<text x="763.5" y="260" font-size="10" fill="#000" stroke="#000" stroke-width="0.3" textLength="31.5" lengthAdjust="spacingAndGlyphs">106.075</text>
<rect x="758" y="289" width="2" height="1" fill="#000" shape-rendering="crispEdges"/>
<text x="763.5" y="293" font-size="10" fill="#000" stroke="#000" stroke-width="0.3" textLength="31.5" lengthAdjust="spacingAndGlyphs">105.875</text>
<rect x="758" y="322" width="2" height="1" fill="#000" shape-rendering="crispEdges"/>
<text x="763.5" y="326" font-size="10" fill="#000" stroke="#000" stroke-width="0.3" textLength="31.5" lengthAdjust="spacingAndGlyphs">105.675</text>
<rect x="758" y="355" width="2" height="1" fill="#000" shape-rendering="crispEdges"/>
<text x="763.5" y="359" font-size="10" fill="#000" stroke="#000" stroke-width="0.3" textLength="31.5" lengthAdjust="spacingAndGlyphs">105.475</text>
<rect x="758" y="388" width="2" height="1" fill="#000" shape-rendering="crispEdges"/>
<text x="763.5" y="392" font-size="10" fill="#000" stroke="#000" stroke-width="0.3" textLength="31.5" lengthAdjust="spacingAndGlyphs">105.275</text>
<rect x="760" y="62" width="39" height="11" fill="#000"/>
<text x="763.5" y="71" font-size="10" fill="#fff" stroke="#fff" stroke-width="0.3" textLength="31.5" lengthAdjust="spacingAndGlyphs">107.215</text>
<rect x="760" y="97" width="39" height="11" fill="#0000ff"/>
<text x="763.5" y="106" font-size="10" fill="#fff" stroke="#fff" stroke-width="0.3" textLength="31.5" lengthAdjust="spacingAndGlyphs">106.999</text>
<polygon points="6,9 13,9 9.5,13" fill="#000"/>
<text x="18" y="14" font-size="10" fill="#000" stroke="#000" stroke-width="0.3" textLength="50.2" lengthAdjust="spacingAndGlyphs">USDJPY,H1</text>
<text x="75.7" y="14.3" font-size="10" fill="#000" stroke="#000" stroke-width="0.3" textLength="31.2" lengthAdjust="spacingAndGlyphs">107.211</text>
<text x="111.2" y="14.3" font-size="10" fill="#000" stroke="#000" stroke-width="0.3" textLength="31.2" lengthAdjust="spacingAndGlyphs">107.252</text>
<text x="147.7" y="14.3" font-size="10" fill="#000" stroke="#000" stroke-width="0.3" textLength="31.2" lengthAdjust="spacingAndGlyphs">107.125</text>
<text x="183.7" y="14.3" font-size="10" fill="#000" stroke="#000" stroke-width="0.3" textLength="31.2" lengthAdjust="spacingAndGlyphs">107.215</text>
<text x="7" y="406" font-size="10" fill="#000" stroke="#000" stroke-width="0.3" textLength="127" lengthAdjust="spacingAndGlyphs">MACD(12,26,9) 0.0461 0.0812</text>
<text x="761" y="404" font-size="10" fill="#000" stroke="#000" stroke-width="0.3" textLength="27.5" lengthAdjust="spacingAndGlyphs">0.3694</text>
<text x="760.3" y="438.7" font-size="10"><tspan font-weight="bold">0</tspan>.00</text>
<text x="761" y="448.6" font-size="10" fill="#000" stroke="#000" stroke-width="0.3" textLength="29.8" lengthAdjust="spacingAndGlyphs">-0.1526</text>
<rect x="758" y="395" width="2" height="1" fill="#000" shape-rendering="crispEdges"/>
<rect x="758" y="435" width="2" height="1" fill="#000" shape-rendering="crispEdges"/>
<rect x="758" y="451" width="2" height="1" fill="#000" shape-rendering="crispEdges"/>
<text x="7" y="467.5" font-size="10" fill="#000" stroke="#000" stroke-width="0.3" textLength="121" lengthAdjust="spacingAndGlyphs">Stoch(8,3,3) 43.8776 43.1942</text>
<text x="761.4" y="465" font-size="10" fill="#000" stroke="#000" stroke-width="0.3" textLength="13.6" lengthAdjust="spacingAndGlyphs">100</text>
<text x="760" y="472" font-size="10" fill="#000" stroke="#000" stroke-width="0.3" textLength="8.7" lengthAdjust="spacingAndGlyphs">80</text>
<text x="760" y="510.5" font-size="10" fill="#000" stroke="#000" stroke-width="0.3" textLength="8.7" lengthAdjust="spacingAndGlyphs">20</text>
<text x="760.7" y="517" font-size="10" fill="#000" stroke="#000" stroke-width="0.3" textLength="4.3" lengthAdjust="spacingAndGlyphs">0</text>
<rect x="758" y="456" width="2" height="1" fill="#000" shape-rendering="crispEdges"/>
<rect x="758" y="519" width="2" height="1" fill="#000" shape-rendering="crispEdges"/>
<text x="6.5" y="535" font-size="10" fill="#000" stroke="#000" stroke-width="0.3" textLength="67.5" lengthAdjust="spacingAndGlyphs">RSI(13) 48.3303</text>
<text x="761.4" y="533" font-size="10" fill="#000" stroke="#000" stroke-width="0.3" textLength="13.6" lengthAdjust="spacingAndGlyphs">100</text>
<text x="760" y="544" font-size="10" fill="#000" stroke="#000" stroke-width="0.3" textLength="8.7" lengthAdjust="spacingAndGlyphs">70</text>
<text x="760" y="566" font-size="10" fill="#000" stroke="#000" stroke-width="0.3" textLength="8.7" lengthAdjust="spacingAndGlyphs">30</text>
<text x="761" y="576" font-size="10" fill="#000" stroke="#000" stroke-width="0.3" textLength="4.3" lengthAdjust="spacingAndGlyphs">0</text>
<rect x="758" y="524" width="2" height="1" fill="#000" shape-rendering="crispEdges"/>
<rect x="758" y="578" width="2" height="1" fill="#000" shape-rendering="crispEdges"/>
<rect x="3" y="580" width="1" height="3" fill="#000" shape-rendering="crispEdges"/>
<text x="1.75" y="592" font-size="10" fill="#000" stroke="#000" stroke-width="0.3" textLength="52" lengthAdjust="spacingAndGlyphs">27 Mar 2018</text>
<rect x="67" y="580" width="1" height="3" fill="#000" shape-rendering="crispEdges"/>
<text x="65.75" y="592" font-size="10" fill="#000" stroke="#000" stroke-width="0.3" textLength="55.5" lengthAdjust="spacingAndGlyphs">28 Mar 13:00</text>
<rect x="131" y="580" width="1" height="3" fill="#000" shape-rendering="crispEdges"/>
<text x="129.75" y="592" font-size="10" fill="#000" stroke="#000" stroke-width="0.3" textLength="55.5" lengthAdjust="spacingAndGlyphs">29 Mar 05:00</text>
<rect x="195" y="580" width="1" height="3" fill="#000" shape-rendering="crispEdges"/>
<text x="193.75" y="592" font-size="10" fill="#000" stroke="#000" stroke-width="0.3" textLength="55.5" lengthAdjust="spacingAndGlyphs">29 Mar 21:00</text>
<rect x="259" y="580" width="1" height="3" fill="#000" shape-rendering="crispEdges"/>
<text x="257.75" y="592" font-size="10" fill="#000" stroke="#000" stroke-width="0.3" textLength="55.5" lengthAdjust="spacingAndGlyphs">30 Mar 13:00</text>
<rect x="323" y="580" width="1" height="3" fill="#000" shape-rendering="crispEdges"/>
<text x="321.75" y="592" font-size="10" fill="#000" stroke="#000" stroke-width="0.3" textLength="49.5" lengthAdjust="spacingAndGlyphs">2 Apr 07:00</text>
<rect x="387" y="580" width="1" height="3" fill="#000" shape-rendering="crispEdges"/>
<text x="385.75" y="592" font-size="10" fill="#000" stroke="#000" stroke-width="0.3" textLength="49.5" lengthAdjust="spacingAndGlyphs">2 Apr 23:00</text>
<rect x="451" y="580" width="1" height="3" fill="#000" shape-rendering="crispEdges"/>
<text x="449.75" y="592" font-size="10" fill="#000" stroke="#000" stroke-width="0.3" textLength="49.5" lengthAdjust="spacingAndGlyphs">3 Apr 15:00</text>
<rect x="515" y="580" width="1" height="3" fill="#000" shape-rendering="crispEdges"/>
<text x="513.75" y="592" font-size="10" fill="#000" stroke="#000" stroke-width="0.3" textLength="49.5" lengthAdjust="spacingAndGlyphs">4 Apr 07:00</text>
<rect x="579" y="580" width="1" height="3" fill="#000" shape-rendering="crispEdges"/>
<text x="577.75" y="592" font-size="10" fill="#000" stroke="#000" stroke-width="0.3" textLength="49.5" lengthAdjust="spacingAndGlyphs">4 Apr 23:00</text>
<rect x="643" y="580" width="1" height="3" fill="#000" shape-rendering="crispEdges"/>
<text x="641.75" y="592" font-size="10" fill="#000" stroke="#000" stroke-width="0.3" textLength="49.5" lengthAdjust="spacingAndGlyphs">5 Apr 15:00</text>
<rect x="707" y="580" width="1" height="3" fill="#000" shape-rendering="crispEdges"/>
<text x="705.75" y="592" font-size="10" fill="#000" stroke="#000" stroke-width="0.3" textLength="49.5" lengthAdjust="spacingAndGlyphs">6 Apr 07:00</text>
</svg></body></html>
